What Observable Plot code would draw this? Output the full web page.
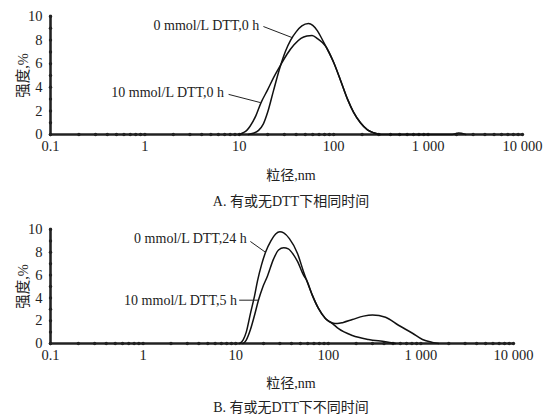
<!DOCTYPE html>
<html><head><meta charset="utf-8">
<script src="https://cdn.jsdelivr.net/npm/d3@7"></script>
<script src="https://cdn.jsdelivr.net/npm/@observablehq/plot@0.6"></script>
<style>
body{margin:0;background:#fff;width:545px;height:418px;position:relative;overflow:hidden;font-family:"Liberation Serif","Noto Sans CJK SC",serif;color:#222;}
.panel{position:absolute;left:0;}
.lab{position:absolute;left:0;width:582px;text-align:center;font-size:14px;line-height:16px;white-space:nowrap;}
</style></head><body>
<div id="a" class="panel" style="top:0"></div>
<div class="lab" style="top:168px">粒径,nm</div>
<div class="lab" style="top:194px">A. 有或无DTT下相同时间</div>
<div id="b" class="panel" style="top:210px"></div>
<div class="lab" style="top:376px">粒径,nm</div>
<div class="lab" style="top:400px">B. 有或无DTT下不同时间</div>
<script>
// ---- axis ticks ----
const xTicks = [0.1, 1, 10, 100, 1000, 10000];
const xTickLabels = ["0.1", "1", "10", "100", "1 000", "10 000"];
const yTicks = [0, 2, 4, 6, 8, 10];
const yDots = [0, 1, 2, 3, 4, 5, 6, 7, 8, 9, 10];
const yLabel = "强度,%";

// ---- panel A: same time, with / without DTT ----
const aName0 = "0 mmol/L DTT,0 h";
const aSize0 = [12.5, 14, 16, 18, 20, 23, 27, 31, 35, 40, 46, 54, 60, 67, 74, 82, 100, 118, 140, 162, 192, 228, 264, 313];
const aInt0  = [0, 0.1, 0.35, 0.9, 1.9, 3.7, 5.7, 7.1, 8.0, 8.7, 9.2, 9.4, 9.25, 8.8, 8.2, 7.5, 6.1, 4.6, 3.0, 1.9, 1.0, 0.4, 0.15, 0];
const aName10 = "10 mmol/L DTT,0 h";
const aSize10 = [10, 11, 12, 13, 15, 17, 20, 23, 27, 32, 38, 45, 52, 59, 68, 82, 100, 118, 140, 162, 192, 228, 264, 313, 1800, 2100, 2500];
const aInt10  = [0, 0.15, 0.35, 0.7, 1.6, 2.7, 3.8, 4.8, 5.8, 6.8, 7.6, 8.15, 8.35, 8.4, 8.1, 7.5, 6.1, 4.6, 3.0, 1.9, 1.0, 0.4, 0.15, 0, 0, 0.12, 0];

// ---- panel B: different times ----
const bName0 = "0 mmol/L DTT,24 h";
const bSize0 = [11, 12, 13, 14.4, 16, 17.2, 19, 21, 24, 27, 30, 33, 38, 46.5, 54, 58, 67.5, 78, 93, 111, 129, 182, 272, 415, 532];
const bInt0  = [0, 0.3, 1.0, 2.6, 4.2, 5.5, 6.9, 8.0, 9.0, 9.6, 9.8, 9.7, 9.2, 7.9, 6.3, 5.6, 4.2, 3.1, 2.2, 1.75, 1.3, 0.7, 0.35, 0.15, 0];
const bName10 = "10 mmol/L DTT,5 h";
const bSize10 = [12, 13, 14.4, 16, 17.6, 19.5, 22, 25.6, 29, 33, 37, 42, 46.5, 54, 58, 67.5, 78, 93, 111, 125, 145, 182, 240, 300, 415, 573, 811, 1040, 1334, 1549];
const bInt10  = [0, 0.3, 1.2, 2.5, 3.8, 4.9, 5.9, 7.4, 8.2, 8.4, 8.3, 7.8, 7.2, 6.0, 5.6, 4.2, 3.1, 2.2, 1.8, 1.75, 1.85, 2.1, 2.4, 2.5, 2.3, 1.6, 0.9, 0.35, 0.1, 0];

// ---- annotations (data units) ----
const aNotes = [
  {text: aName0,  tx: 16.3, ty: 9.25, x1: 18,  y1: 9.15, x2: 36.6, y2: 8.2},
  {text: aName10, tx: 6.9,  ty: 3.6,  x1: 7.7, y1: 3.4,  x2: 16.8, y2: 2.7}
];
const bNotes = [
  {text: bName0,  tx: 13.2, ty: 9.2, x1: 14.4, y1: 8.95, x2: 21,   y2: 8.0},
  {text: bName10, tx: 10.3, ty: 3.8, x1: 10.9, y1: 3.8,  x2: 17.6, y2: 3.8}
];

const minorX = d3.scaleLog().domain([0.1, 10000]).ticks();
const font = "'Liberation Serif','Noto Sans CJK SC',serif";
const ink = "#222";

function rowsOf(list) {
  return list.flatMap(s => s.x.map((x, i) => ({x, y: s.y[i], name: s.name})));
}

function panel({series, notes, height, marginTop, marginBottom, marginRight}) {
  return Plot.plot({
    width: 545, height, marginTop, marginBottom, marginLeft: 50, marginRight,
    style: {fontFamily: font, fontSize: "14px", color: ink, background: "transparent"},
    x: {type: "log", domain: [0.1, 10000]},
    y: {domain: [0, 10]},
    marks: [
      Plot.ruleY([0], {x1: 0.1, x2: 10000, stroke: ink, strokeWidth: 2.6}),
      Plot.ruleX([0.1], {y1: 0, y2: 10.1, stroke: ink, strokeWidth: 2.6}),
      Plot.dot(minorX, {x: d => d, y: 0, r: 1.7, fill: ink, stroke: null}),
      Plot.dot(yDots, {x: 0.1, y: d => d, r: 1.7, fill: ink, stroke: null}),
      Plot.line(rowsOf(series), {x: "x", y: "y", z: "name", curve: "monotone-x", stroke: "#111", strokeWidth: 1.5}),
      Plot.axisX(xTicks, {tickSize: 0, tickPadding: 6, tickFormat: d => xTickLabels[xTicks.indexOf(d)], label: null, fontSize: 14.5}),
      Plot.axisY(yTicks, {tickSize: 0, tickPadding: 8, label: yLabel, labelAnchor: "center", labelArrow: "none", labelOffset: 33, fontSize: 14.5}),
      Plot.link(notes, {x1: "x1", y1: "y1", x2: "x2", y2: "y2", stroke: ink, strokeWidth: 1}),
      Plot.text(notes, {x: "tx", y: "ty", text: "text", textAnchor: "end", fontSize: 14, fill: ink})
    ]
  });
}

document.getElementById("a").append(panel({
  series: [{name: aName0, x: aSize0, y: aInt0}, {name: aName10, x: aSize10, y: aInt10}],
  notes: aNotes, height: 160, marginTop: 16, marginBottom: 26, marginRight: 23
}));
document.getElementById("b").append(panel({
  series: [{name: bName0, x: bSize0, y: bInt0}, {name: bName10, x: bSize10, y: bInt10}],
  notes: bNotes, height: 160, marginTop: 19, marginBottom: 27, marginRight: 32
}));
</script>
</body></html>
